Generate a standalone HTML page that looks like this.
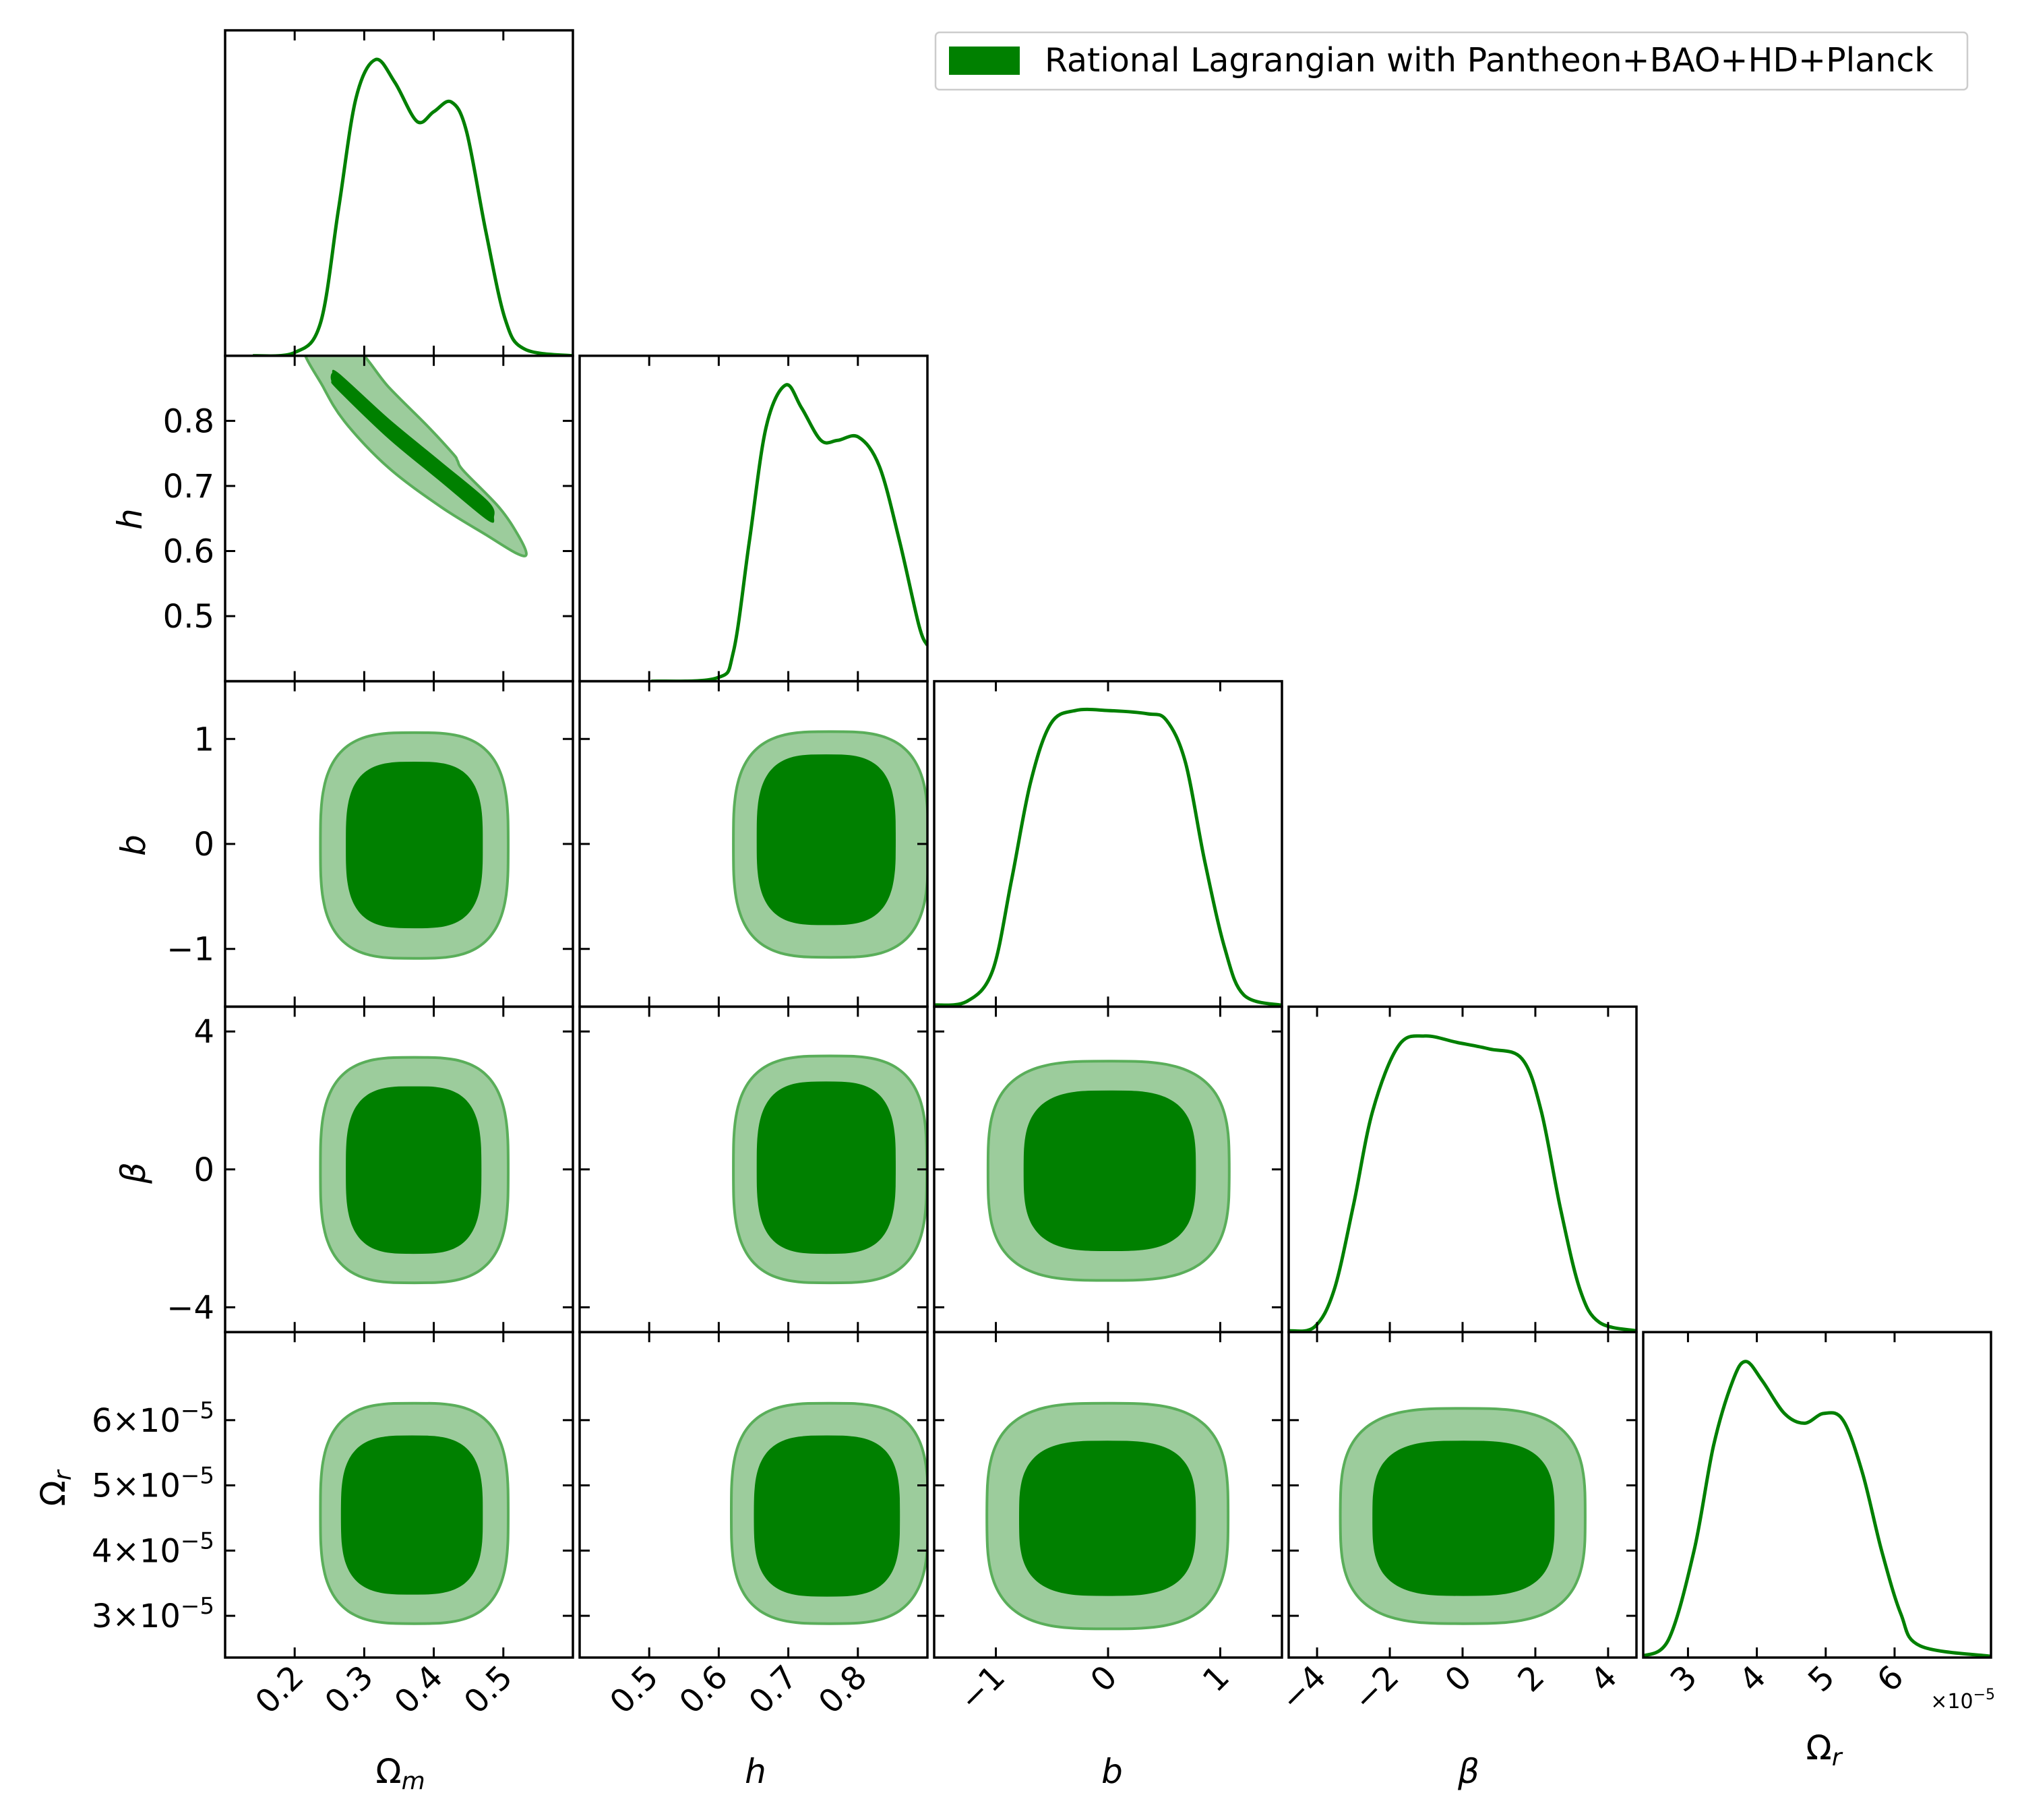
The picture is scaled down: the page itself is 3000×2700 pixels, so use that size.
<!DOCTYPE html>
<html><head><meta charset="utf-8"><style>
html,body{margin:0;padding:0;background:#fff}
svg{display:block}
text{font-family:"DejaVu Sans","Liberation Sans",sans-serif;fill:#000}
</style></head><body>
<svg id="fig" width="3000" height="2700" viewBox="0 0 3000 2700" xmlns="http://www.w3.org/2000/svg">
<g id="layer"></g>
<g>
<rect x="1388" y="48" width="1531" height="85" rx="6" fill="#fff" stroke="#ccc" stroke-width="2.5"/>
<rect x="1408" y="69" width="105" height="42" fill="#008000"/>
<text x="1550" y="106" font-size="49">Rational Lagrangian with Pantheon+BAO+HD+Planck</text>
</g>
</svg>
<script>
// ---- data ----
const paramNames = ["Omega_m","h","b","beta","Omega_r"];
const ranges = [[0.1,0.6],[0.4,0.9],[-1.55,1.55],[-4.78,4.78],[2.35,7.4]];
const yRanges = [[0.1,0.6],[0.4,0.9],[-1.55,1.55],[-4.72,4.72],[2.36,7.35]];
const ticks = [[0.2,0.3,0.4,0.5],[0.5,0.6,0.7,0.8],[-1,0,1],[-4,-2,0,2,4],[3,4,5,6]];
const xTickLabels = [["0.2","0.3","0.4","0.5"],["0.5","0.6","0.7","0.8"],["\u22121","0","1"],["\u22124","\u22122","0","2","4"],["3","4","5","6"]];
const yTicks = [[],[0.5,0.6,0.7,0.8],[-1,0,1],[-4,0,4],[3,4,5,6]];
const yTickLabels = [[],["0.5","0.6","0.7","0.8"],["\u22121","0","1"],["\u22124","0","4"],["3","4","5","6"]];
// 1D marginals
const om_x = [0.14,0.2,0.237,0.263,0.288,0.316,0.344,0.376,0.4,0.425,0.447,0.475,0.503,0.531,0.6];
const om_p = [0,0.01,0.1,0.45,0.79,0.91,0.84,0.72,0.75,0.78,0.69,0.38,0.11,0.02,0];
const h_x = [0.503,0.597,0.621,0.644,0.668,0.696,0.719,0.747,0.771,0.801,0.831,0.86,0.888,0.9];
const h_p = [0,0.01,0.09,0.43,0.78,0.91,0.84,0.74,0.74,0.75,0.66,0.43,0.17,0.11];
const b_x = [-1.55,-1.26,-1.03,-0.86,-0.69,-0.51,-0.29,0,0.35,0.52,0.69,0.86,1.04,1.21,1.55];
const b_p = [0.005,0.016,0.11,0.39,0.69,0.87,0.91,0.91,0.90,0.88,0.75,0.45,0.18,0.036,0.004];
const beta_x = [-4.78,-4.07,-3.53,-3.0,-2.47,-1.76,-1.04,-0.15,0.74,1.63,2.16,2.69,3.23,3.76,4.78];
const beta_p = [0.004,0.016,0.13,0.39,0.68,0.88,0.91,0.89,0.87,0.84,0.68,0.38,0.13,0.03,0.004];
const or_x = [2.34,2.72,3.09,3.37,3.65,3.84,4.08,4.4,4.69,4.97,5.25,5.53,5.81,6.09,6.37,7.4];
const or_p = [0.004,0.056,0.33,0.65,0.85,0.91,0.85,0.75,0.72,0.75,0.73,0.57,0.33,0.135,0.036,0.004];
// 2D: Omega_m vs h contours (points, data units)
const omh_outer = [[0.214,0.916],[0.282,0.916],[0.335,0.852],[0.391,0.792],[0.428,0.749],[0.434,0.739],[0.443,0.723],[0.494,0.667],[0.522,0.623],[0.533,0.595],[0.518,0.597],[0.475,0.625],[0.41,0.668],[0.335,0.728],[0.274,0.796],[0.241,0.852]];
const omh_inner = [[0.254,0.873],[0.264,0.872],[0.335,0.803],[0.41,0.737],[0.478,0.676],[0.486,0.652],[0.477,0.648],[0.41,0.707],[0.335,0.773],[0.262,0.848],[0.253,0.862]];
// 2D boxy contours: [xmin,xmax,ymin,ymax]
const box_2_0 = {outer:[0.237,0.507,-1.09,1.06], inner:[0.274,0.47,-0.80,0.78]};
const box_2_1 = {outer:[0.621,0.901,-1.08,1.07], inner:[0.655,0.854,-0.77,0.85]};
const box_3_0 = {outer:[0.237,0.507,-3.29,3.25], inner:[0.274,0.468,-2.44,2.40]};
const box_3_1 = {outer:[0.621,0.899,-3.29,3.29], inner:[0.655,0.854,-2.44,2.54]};
const box_3_2 = {outer:[-1.07,1.08,-3.22,3.14], inner:[-0.75,0.78,-2.36,2.28]};
const box_4_0 = {outer:[0.237,0.507,2.88,6.26], inner:[0.267,0.47,3.33,5.76]};
const box_4_1 = {outer:[0.618,0.901,2.88,6.26], inner:[0.651,0.86,3.30,5.76]};
const box_4_2 = {outer:[-1.08,1.07,2.80,6.26], inner:[-0.79,0.78,3.31,5.68]};
const box_4_3 = {outer:[-3.36,3.37,2.88,6.18], inner:[-2.47,2.52,3.31,5.68]};

// ---- layout ----
const NS="http://www.w3.org/2000/svg";
const L=334, CS=526, W=516, T=45, H=482.8;
const layer=document.getElementById('layer');
function el(tag,attrs,parent){const e=document.createElementNS(NS,tag);for(const k in attrs)e.setAttribute(k,attrs[k]);(parent||layer).appendChild(e);return e;}
function px(col,v){const r=ranges[col];return L+col*CS+(v-r[0])/(r[1]-r[0])*W;}
function py(row,v){const r=yRanges[row];return T+(row+1)*H-(v-r[0])/(r[1]-r[0])*H;}
function smooth(pts,closed){
  const n=pts.length;let d="M"+pts[0][0].toFixed(1)+","+pts[0][1].toFixed(1);
  const m=closed?n:n-1;
  for(let i=0;i<m;i++){
    const p0=pts[closed?(i-1+n)%n:Math.max(i-1,0)],p1=pts[i],p2=pts[(i+1)%n],p3=pts[closed?(i+2)%n:Math.min(i+2,n-1)];
    const c1=[p1[0]+(p2[0]-p0[0])/6,p1[1]+(p2[1]-p0[1])/6],c2=[p2[0]-(p3[0]-p1[0])/6,p2[1]-(p3[1]-p1[1])/6];
    d+="C"+c1[0].toFixed(1)+","+c1[1].toFixed(1)+" "+c2[0].toFixed(1)+","+c2[1].toFixed(1)+" "+p2[0].toFixed(1)+","+p2[1].toFixed(1);
  }
  return d+(closed?"Z":"");
}
function superPts(b,row,col){
  const cx=(b[0]+b[1])/2,cy=(b[2]+b[3])/2,rx=(b[1]-b[0])/2,ry=(b[3]-b[2])/2,pts=[];
  for(let i=0;i<72;i++){const t=i/72*2*Math.PI,c=Math.cos(t),s=Math.sin(t);
    const x=cx+rx*Math.sign(c)*Math.pow(Math.abs(c),0.62),y=cy+ry*Math.sign(s)*Math.pow(Math.abs(s),0.62);
    pts.push([px(col,x),py(row,y)]);}
  return pts;
}
const defs=el('defs',{});
const marginals=[[om_x,om_p],[h_x,h_p],[b_x,b_p],[beta_x,beta_p],[or_x,or_p]];
const boxes={"2_0":box_2_0,"2_1":box_2_1,"3_0":box_3_0,"3_1":box_3_1,"3_2":box_3_2,"4_0":box_4_0,"4_1":box_4_1,"4_2":box_4_2,"4_3":box_4_3};
for(let row=0;row<5;row++){for(let col=0;col<=row;col++){
  const x0=L+col*CS,y0=T+row*H;
  const g=el('g',{});
  
  
  const cp=el('clipPath',{id:'c'+row+col},defs);el('rect',{x:x0,y:y0,width:W,height:H},cp);
  const pg=el('g',{'clip-path':'url(#c'+row+col+')'},g);
  if(row===col){
    const xs=marginals[col][0],ps=marginals[col][1];
    const pts=xs.map((v,i)=>[px(col,v),y0+H-ps[i]*H]);
    const p=el('path',{d:smooth(pts,false),fill:'none',stroke:'#008000','stroke-width':5,'stroke-linejoin':'round'},pg);
    
    
  } else {
    let outer,inner;
    if(row===1&&col===0){outer=omh_outer.map(q=>[px(0,q[0]),py(1,q[1])]);inner=omh_inner.map(q=>[px(0,q[0]),py(1,q[1])]);}
    else{const b=boxes[row+"_"+col];outer=superPts(b.outer,row,col);inner=superPts(b.inner,row,col);}
    const o=el('path',{d:smooth(outer,true),fill:'#9ccc9c',stroke:'#5aae5a','stroke-width':4},pg);
    
    
    const i2=el('path',{d:smooth(inner,true),fill:'#008000',stroke:'#008000','stroke-width':1},pg);
    
    
  }
  const fr=el('rect',{x:x0,y:y0,width:W,height:H,fill:'none',stroke:'#000','stroke-width':3.5},g);
  
  
  ticks[col].forEach((v,i)=>{const x=px(col,v);
    el('line',{x1:x,x2:x,y1:y0+H,y2:y0+H-15,stroke:'#000','stroke-width':3},g);
    el('line',{x1:x,x2:x,y1:y0,y2:y0+15,stroke:'#000','stroke-width':3},g);
    if(row===4){const t=el('text',{x:x+16,y:y0+H+32,'font-size':48,'text-anchor':'end',transform:'rotate(-45 '+(x+16)+' '+(y0+H+32)+')'},g);
      t.textContent=xTickLabels[col][i];
      
      }
  });
  if(row!==col){yTicks[row].forEach((v,i)=>{const y=py(row,v);
    el('line',{x1:x0,x2:x0+15,y1:y,y2:y,stroke:'#000','stroke-width':3},g);
    el('line',{x1:x0+W,x2:x0+W-15,y1:y,y2:y,stroke:'#000','stroke-width':3},g);
    if(col===0){const t=el('text',{x:318,y:y+17,'font-size':48,'text-anchor':'end'},g);
      
      
      if(row===4){t.textContent=yTickLabels[row][i]+"\u00d710";const s=el('tspan',{dy:-20,'font-size':34},t);s.textContent="\u22125";}
      else t.textContent=yTickLabels[row][i];}
  });}
}}
</script>
<script>
(function(){const svg=document.getElementById('fig');const NS="http://www.w3.org/2000/svg";
function lab(x,y,html,name,rot){const t=document.createElementNS(NS,'text');t.setAttribute('x',x);t.setAttribute('y',y);t.setAttribute('font-size',50);t.setAttribute('text-anchor','middle');
 if(rot)t.setAttribute('transform','rotate(-90 '+x+' '+y+')');t.innerHTML=html;
 
 
 svg.appendChild(t);}
lab(594,2645,'Ω<tspan font-style="italic" font-size="36" dy="9">m</tspan>','x-axis-title-omega-m');
lab(1121,2645,'<tspan font-style="italic">h</tspan>','x-axis-title-h');
lab(1650,2645,'<tspan font-style="italic">b</tspan>','x-axis-title-b');
lab(2179,2645,'<tspan font-style="italic">β</tspan>','x-axis-title-beta');
lab(2706,2610,'Ω<tspan font-style="italic" font-size="36" dy="9">r</tspan>','x-axis-title-omega-r');
lab(210,770,'<tspan font-style="italic">h</tspan>','y-axis-title-h',true);
lab(215,1254,'<tspan font-style="italic">b</tspan>','y-axis-title-b',true);
lab(215,1740,'<tspan font-style="italic">β</tspan>','y-axis-title-beta',true);
lab(96,2208,'Ω<tspan font-style="italic" font-size="36" dy="9">r</tspan>','y-axis-title-omega-r',true);
const m=document.createElementNS(NS,'text');m.setAttribute('x',2960);m.setAttribute('y',2534);m.setAttribute('font-size',30);m.setAttribute('text-anchor','end');
m.innerHTML='×10<tspan dy="-13" font-size="22">−5</tspan>';


svg.appendChild(m);})();
</script>
</body></html>
